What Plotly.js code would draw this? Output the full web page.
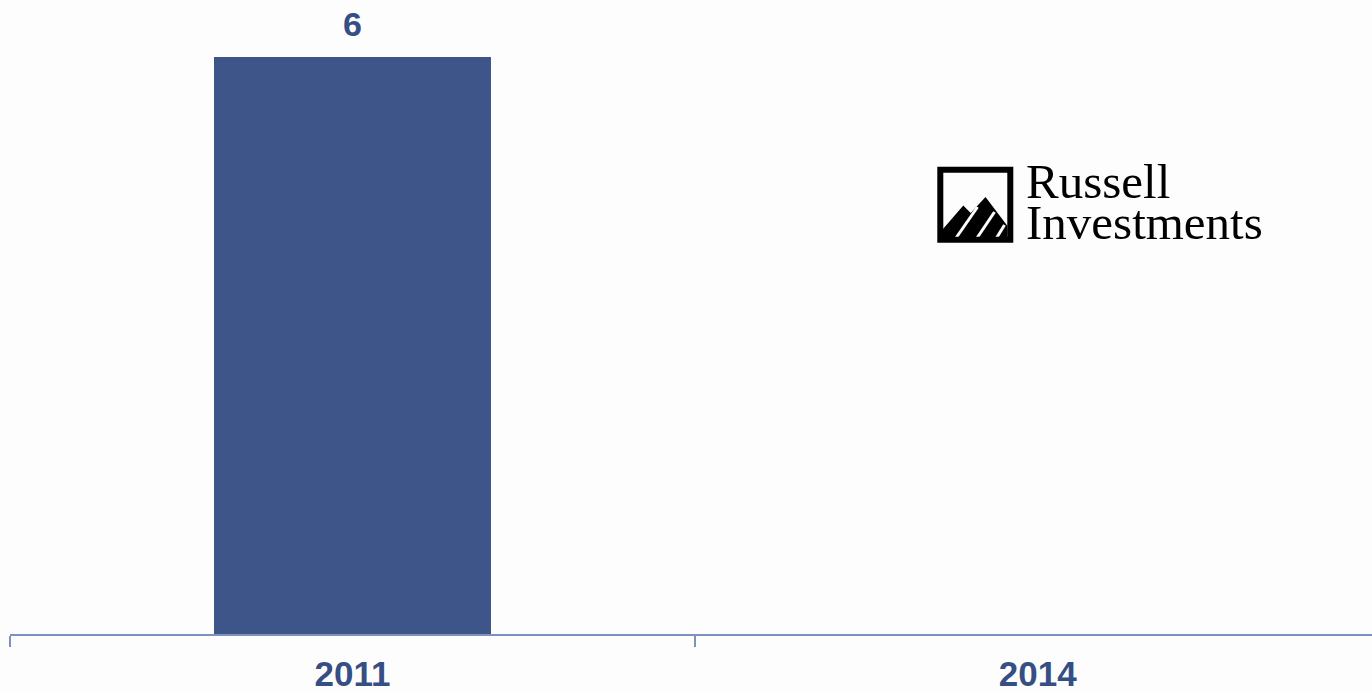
<!DOCTYPE html>
<html>
<head>
<meta charset="utf-8">
<script src="https://cdn.plot.ly/plotly-3.0.1.min.js"></script>
<style>
  html, body { margin: 0; padding: 0; background: #fdfdfd; overflow: hidden; }
  #chart { width: 1372px; height: 692px; }
</style>
</head>
<body>
<div id="chart"></div>
<script>
// ---- data ----
const categories = ["2011", "2014"];
const values = [6, null];
const valueLabels = ["6", ""];
const logoLine1 = "Russell";
const logoLine2 = "Investments";

// ---- layout helpers (decoration only) ----
const W = 1372, H = 692;
const M = { l: 10, r: 0, t: 0, b: 58 };
const PW = W - M.l - M.r, PH = H - M.t - M.b;
const px = p => (p - M.l) / PW;            // pixel x -> paper
const py = p => (H - M.b - p) / PH;        // pixel y -> paper

const textColor = "#354f84";
const barColor = "#3d5589";
const axisColor = "#8090c0";

const trace = {
  type: "bar",
  x: categories,
  y: values,
  width: 0.404,
  marker: { color: barColor, line: { width: 0 } },
  hoverinfo: "x+y"
};

const annotations = [];
categories.forEach((c, i) => {
  if (values[i] == null || valueLabels[i] === "") return;
  annotations.push({
    x: i, y: values[i],
    xref: "x", yref: "y",
    text: valueLabels[i],
    showarrow: false,
    xanchor: "center",
    yanchor: "bottom",
    yshift: 12,
    font: { family: "Liberation Sans, Arial, sans-serif", size: 34, weight: "bold", color: textColor }
  });
});

annotations.push({
  xref: "paper", yref: "paper", x: px(1024), y: py(181),
  xanchor: "left", yanchor: "middle", showarrow: false,
  text: logoLine1,
  font: { family: "Liberation Serif, Times New Roman, serif", size: 49, color: "#000000" }
});
annotations.push({
  xref: "paper", yref: "paper", x: px(1024), y: py(222),
  xanchor: "left", yanchor: "middle", showarrow: false,
  text: logoLine2,
  font: { family: "Liberation Serif, Times New Roman, serif", size: 49, color: "#000000" }
});

function poly(points) {
  return "M " + points.map(p => px(p[0]) + "," + py(p[1])).join(" L ") + " Z";
}

const shapes = [
  // logo mountain silhouette
  { type: "path", xref: "paper", yref: "paper",
    path: poly([[943, 237.5], [943, 229], [963.3, 205.5], [970.7, 213], [985.5, 197], [1007.5, 226], [1007.5, 237.5]]),
    fillcolor: "#000000", line: { width: 0 } },
  // white diagonal gaps
  { type: "line", xref: "paper", yref: "paper", x0: px(956), y0: py(238), x1: px(977.5), y1: py(207),
    line: { color: "#fdfdfd", width: 3 } },
  { type: "line", xref: "paper", yref: "paper", x0: px(977), y0: py(238), x1: px(994.5), y1: py(212),
    line: { color: "#fdfdfd", width: 3 } },
  { type: "line", xref: "paper", yref: "paper", x0: px(996.5), y0: py(238), x1: px(1004.5), y1: py(225),
    line: { color: "#fdfdfd", width: 3 } },
  // logo frame
  { type: "rect", xref: "paper", yref: "paper",
    x0: px(940.3), x1: px(1010.3), y0: py(169.7), y1: py(239.7),
    line: { color: "#000000", width: 6 }, fillcolor: "rgba(0,0,0,0)" }
];

const layout = {
  width: W, height: H,
  margin: M,
  paper_bgcolor: "#fdfdfd",
  plot_bgcolor: "#fdfdfd",
  showlegend: false,
  bargap: 0,
  xaxis: {
    type: "category",
    range: [-0.5, 1.488],
    tickson: "boundaries",
    ticks: "outside",
    ticklen: 11,
    tickwidth: 1.5,
    tickcolor: axisColor,
    ticklabelstandoff: 8,
    showline: true,
    linecolor: axisColor,
    linewidth: 2,
    showgrid: false,
    zeroline: false,
    tickfont: { family: "Liberation Sans, Arial, sans-serif", size: 35, weight: "bold", color: textColor },
    fixedrange: true
  },
  yaxis: {
    range: [0, 6.593],
    visible: false,
    showgrid: false,
    zeroline: false,
    fixedrange: true
  },
  annotations: annotations,
  shapes: shapes
};

Plotly.newPlot("chart", [trace], layout, { displayModeBar: false });
</script>
</body>
</html>
